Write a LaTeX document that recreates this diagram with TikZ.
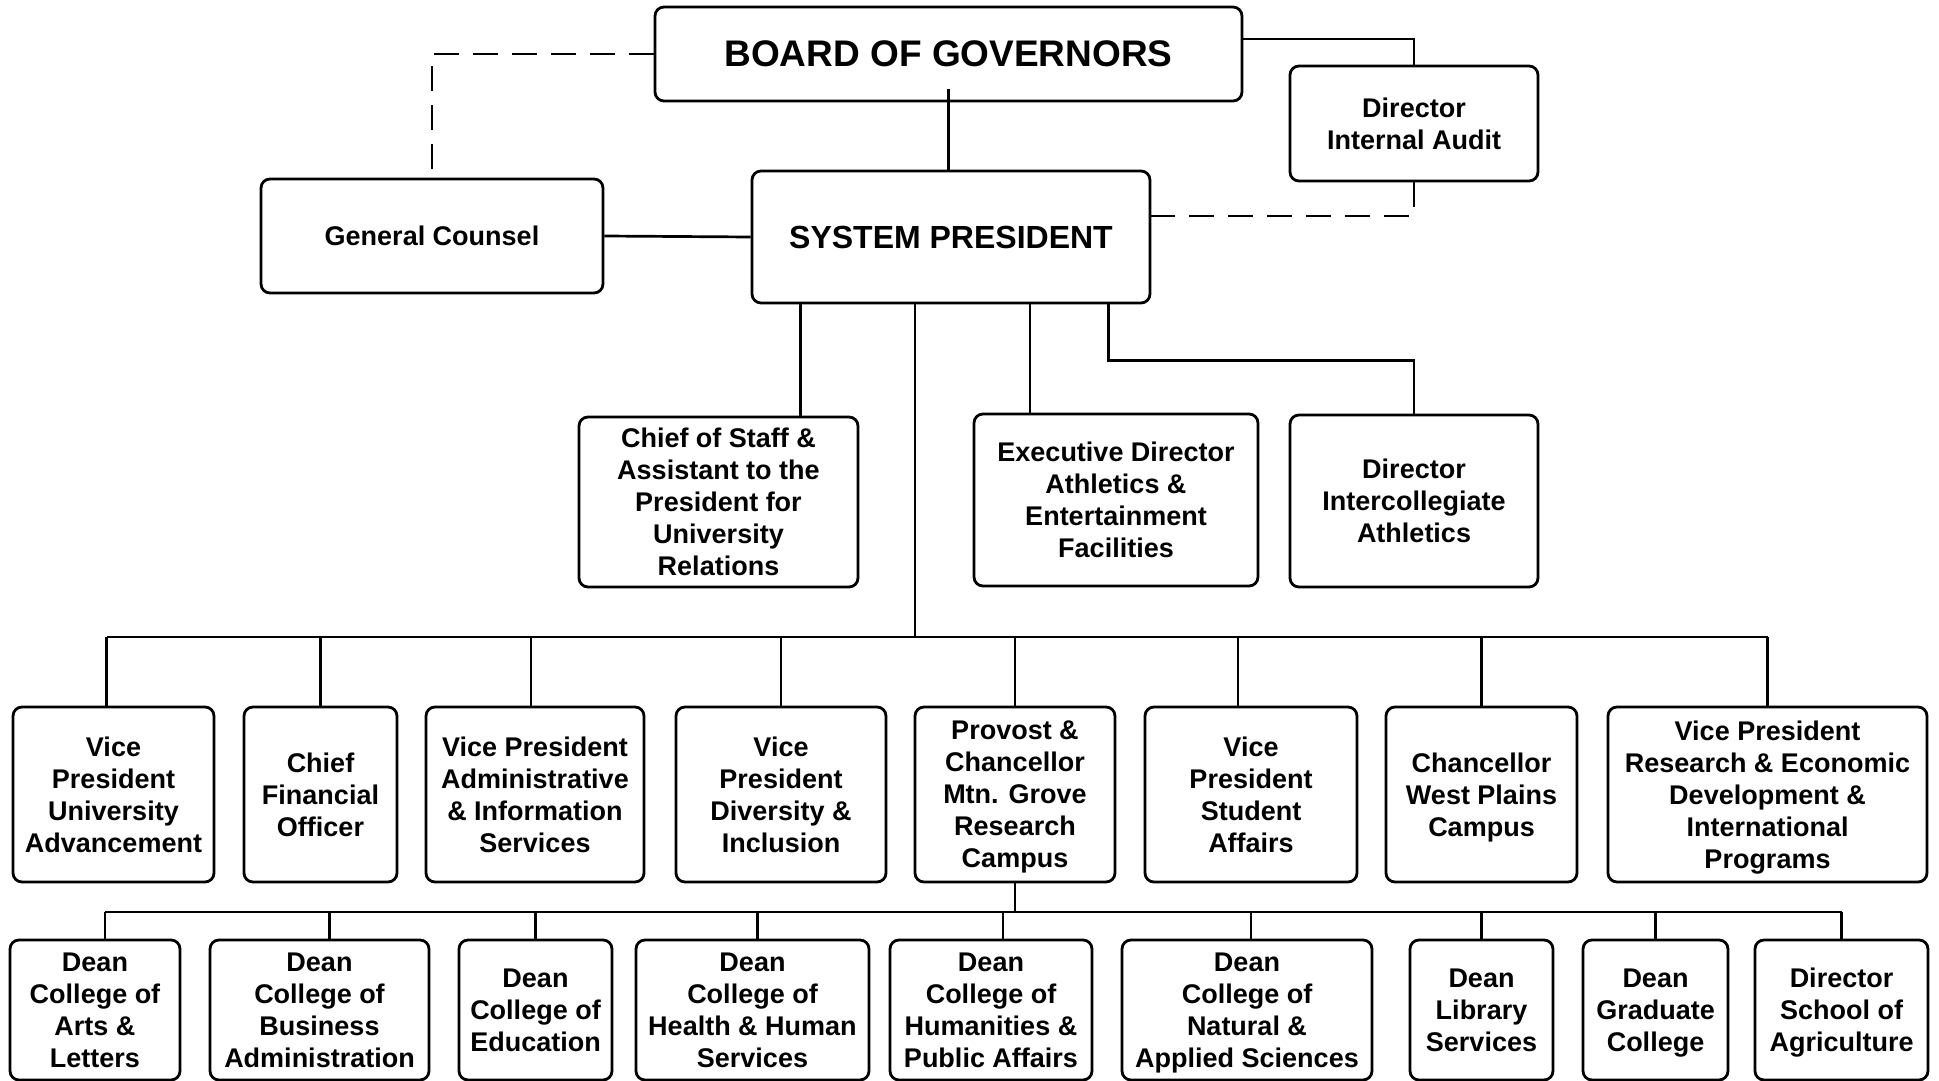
\documentclass[tikz,border=0pt]{standalone}
\usepackage{fontspec}
\setmainfont{Liberation Sans}
\usepackage{tikz}

\begin{document}
\begin{tikzpicture}[x=1pt,y=-1pt]
\tikzset{office/.style={draw,line width=2.8pt,rounded corners=9pt,fill=white,align=center,inner sep=0pt,text depth=0pt,font=\bfseries\fontsize{27}{32}\selectfont},
link/.style={line width=2.7pt},
dashlink/.style={line width=2.8pt,dash pattern=on 25pt off 14pt}}
\useasboundingbox (0,0) rectangle (1939,1081);
% top
\node[office,minimum width=587pt,minimum height=94pt,font=\bfseries\fontsize{37}{44}\selectfont] (board) at (948.5,54) {BOARD OF GOVERNORS};
\node[office,minimum width=248pt,minimum height=115pt] (audit) at (1414,123.5) {Director\\Internal Audit};
\node[office,minimum width=398pt,minimum height=132pt,font=\bfseries\fontsize{32}{38}\selectfont] (sp) at (951,237) {SYSTEM PRESIDENT};
\node[office,minimum width=342pt,minimum height=114pt] (gc) at (432,236) {General Counsel};
% staff
\node[office,minimum width=279pt,minimum height=170pt] (cos) at (718.5,502) {Chief of Staff \&\\Assistant to the\\President for\\University\\Relations};
\node[office,minimum width=284pt,minimum height=172pt] (exd) at (1116,500) {Executive Director\\Athletics \&\\Entertainment\\Facilities};
\node[office,minimum width=248pt,minimum height=172pt] (dia) at (1414,501) {Director\\Intercollegiate\\Athletics};
% vice presidents
\node[office,minimum width=201pt,minimum height=175pt] (vadv) at (113.5,794.5) {Vice\\President\\University\\Advancement};
\node[office,minimum width=153pt,minimum height=175pt] (cfo) at (320.5,794.5) {Chief\\Financial\\Officer};
\node[office,minimum width=218pt,minimum height=175pt] (vadmin) at (535,794.5) {Vice President\\Administrative\\\& Information\\Services};
\node[office,minimum width=210pt,minimum height=175pt] (vdiv) at (781,794.5) {Vice\\President\\Diversity \&\\Inclusion};
\node[office,minimum width=200pt,minimum height=175pt] (prov) at (1015,794.5) {Provost \&\\Chancellor\\Mtn. Grove\\Research\\Campus};
\node[office,minimum width=212pt,minimum height=175pt] (vstu) at (1251,794.5) {Vice\\President\\Student\\Affairs};
\node[office,minimum width=191pt,minimum height=175pt] (chwp) at (1481.5,794.5) {Chancellor\\West Plains\\Campus};
\node[office,minimum width=319pt,minimum height=175pt] (vres) at (1767.5,794.5) {Vice President\\Research \& Economic\\Development \&\\International\\Programs};
% deans
\node[office,minimum width=170pt,minimum height=140pt] (darts) at (95,1010) {Dean\\College of\\Arts \&\\Letters};
\node[office,minimum width=219pt,minimum height=140pt] (dbus) at (319.5,1010) {Dean\\College of\\Business\\Administration};
\node[office,minimum width=153pt,minimum height=140pt] (dedu) at (535.5,1010) {Dean\\College of\\Education};
\node[office,minimum width=233pt,minimum height=140pt] (dhealth) at (752.5,1010) {Dean\\College of\\Health \& Human\\Services};
\node[office,minimum width=202pt,minimum height=140pt] (dhum) at (991,1010) {Dean\\College of\\Humanities \&\\Public Affairs};
\node[office,minimum width=250pt,minimum height=140pt] (dnat) at (1247,1010) {Dean\\College of\\Natural \&\\Applied Sciences};
\node[office,minimum width=143pt,minimum height=140pt] (dlib) at (1481.5,1010) {Dean\\Library\\Services};
\node[office,minimum width=145pt,minimum height=140pt] (dgrad) at (1655.5,1010) {Dean\\Graduate\\College};
\node[office,minimum width=173pt,minimum height=140pt] (dagr) at (1841.5,1010) {Director\\School of\\Agriculture};
\coordinate (vbus) at (915,637);
\coordinate (drow) at (1016,912);
% board links
\draw[link] ([yshift=13pt]board.south) -- (board.south |- sp.north);
\draw[link] ([yshift=15pt]board.east) -| (audit.north);
\draw[dashlink] (board.west) -| (gc.north);
\draw[dashlink] (audit.south) |- ([yshift=21pt]sp.east);
\draw[link] (gc.east) -- (sp.west);
% president links
\draw[link] ([xshift=82pt]cos.north) -- ([xshift=82pt]cos.north |- sp.south);
\draw[link] ([xshift=-86pt]exd.north) -- ([xshift=-86pt]exd.north |- sp.south);
\draw[link] ([xshift=-43pt]sp.south east) -- ++(0,56) -| (dia.north);
\draw[link] (vbus |- sp.south) -- (vbus);
\draw[link] ([xshift=-7pt]vadv.north |- vbus) -- (vres.north |- vbus);
\draw[link] ([xshift=-7pt]vadv.north) -- ([xshift=-7pt]vadv.north |- vbus);
\draw[link] (cfo.north) -- (cfo.north |- vbus);
\draw[link] ([xshift=-4pt]vadmin.north) -- ([xshift=-4pt]vadmin.north |- vbus);
\draw[link] (vdiv.north) -- (vdiv.north |- vbus);
\draw[link] (prov.north) -- (prov.north |- vbus);
\draw[link] ([xshift=-13pt]vstu.north) -- ([xshift=-13pt]vstu.north |- vbus);
\draw[link] (chwp.north) -- (chwp.north |- vbus);
\draw[link] (vres.north) -- (vres.north |- vbus);
% provost links
\draw[link] (prov.south) -- (prov.south |- drow);
\draw[link] ([xshift=10pt]darts.north |- drow) -- (dagr.north |- drow);
\draw[link] ([xshift=10pt]darts.north) -- ([xshift=10pt]darts.north |- drow);
\draw[link] ([xshift=10pt]dbus.north) -- ([xshift=10pt]dbus.north |- drow);
\draw[link] (dedu.north) -- (dedu.north |- drow);
\draw[link] ([xshift=5pt]dhealth.north) -- ([xshift=5pt]dhealth.north |- drow);
\draw[link] ([xshift=12pt]dhum.north) -- ([xshift=12pt]dhum.north |- drow);
\draw[link] ([xshift=4pt]dnat.north) -- ([xshift=4pt]dnat.north |- drow);
\draw[link] (dlib.north) -- (dlib.north |- drow);
\draw[link] (dgrad.north) -- (dgrad.north |- drow);
\draw[link] (dagr.north) -- (dagr.north |- drow);
\end{tikzpicture}
\end{document}
